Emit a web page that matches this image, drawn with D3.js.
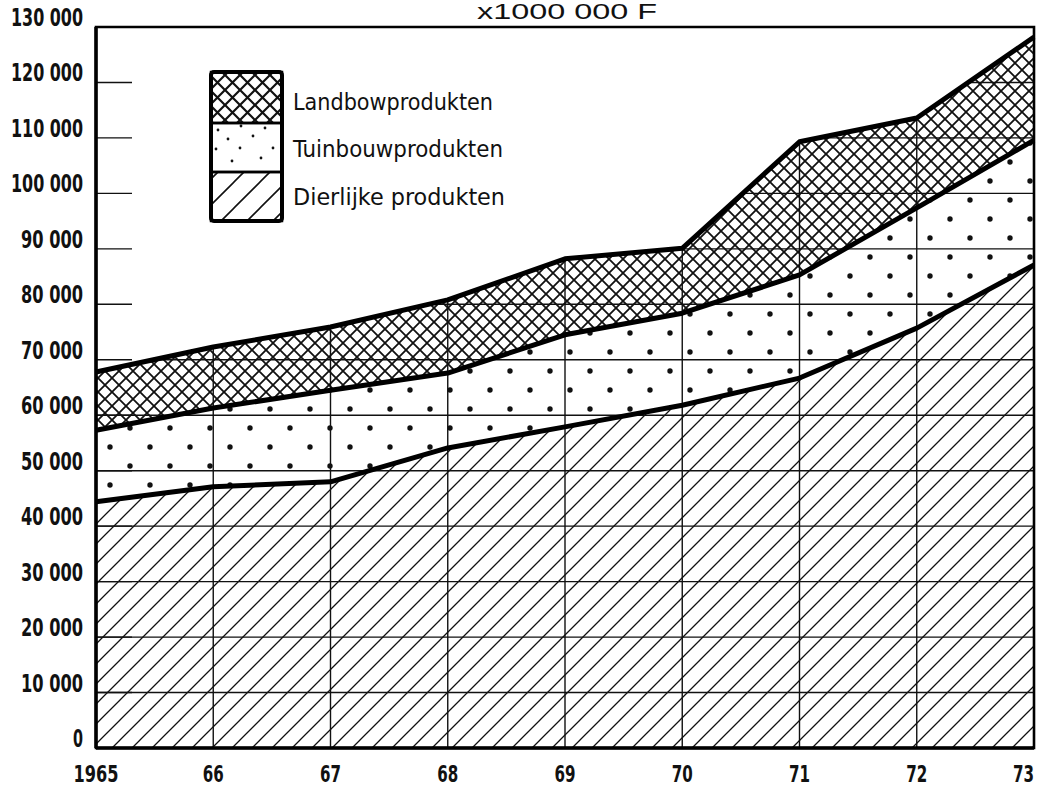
<!DOCTYPE html>
<html>
<head>
	<meta charset="utf-8" />
	<title>D3</title>
	<script src="https://d3js.org/d3.v7.min.js"></script>
	<style>
		body { margin: 0; background: #fff; }
	</style>
</head>
<body>

<script>
var years = [1965, 1966, 1967, 1968, 1969, 1970, 1971, 1972, 1973];
var yearLabels = ["1965", "66", "67", "68", "69", "70", "71", "72", "73"];
var dierlijke = [44400, 47100, 48000, 54100, 57900, 61800, 66700, 75700, 87100];
var tuinbouw = [12900, 14200, 16500, 13500, 16600, 16600, 18600, 21700, 22500];
var landbouw = [10500, 11000, 11400, 13200, 13700, 11700, 24000, 16200, 18600];
var seriesNames = ["Dierlijke produkten", "Tuinbouwprodukten", "Landbowprodukten"];
var yTicks = d3.range(0, 130001, 10000);

var W = 1041, H = 788;
var pLeft = 96, pRight = 1034, pTop = 27, pBottom = 748;

var canvas = d3.select("body").append("svg")
			.attr("width", W)
			.attr("height", H);

var x = d3.scaleLinear().domain([1965, 1973]).range([pLeft, pRight]);
var y = d3.scaleLinear().domain([0, 130000]).range([pBottom, pTop]);

var defs = canvas.append("defs");

// fill patterns
function hatch(id, size, sw) {
	defs.append("pattern")
		.attr("id", id)
		.attr("patternUnits", "userSpaceOnUse")
		.attr("width", size).attr("height", size)
		.append("path")
		.attr("d", "M0," + size + "L" + size + ",0M" + (-size / 2) + "," + (size / 2) + "L" + (size / 2) + "," + (-size / 2) + "M" + (size / 2) + "," + (size * 1.5) + "L" + (size * 1.5) + "," + (size / 2))
		.attr("stroke", "#111").attr("stroke-width", sw).attr("fill", "none");
}
function cross(id, size, sw) {
	var p = defs.append("pattern")
		.attr("id", id)
		.attr("patternUnits", "userSpaceOnUse")
		.attr("width", size).attr("height", size);
	p.append("path")
		.attr("d", "M0,0L" + size + "," + size + "M0," + size + "L" + size + ",0")
		.attr("stroke", "#111").attr("stroke-width", sw).attr("fill", "none");
}
hatch("hatch", 20, 1.3);
hatch("hatchLeg", 26, 1.6);
cross("cross", 14, 1.8);
cross("crossLeg", 15, 2.2);

var dots = defs.append("pattern")
	.attr("id", "dots")
	.attr("patternUnits", "userSpaceOnUse")
	.attr("width", 40).attr("height", 38);
dots.append("circle").attr("cx", 10).attr("cy", 10).attr("r", 2.7).attr("fill", "#111");
dots.append("circle").attr("cx", 30).attr("cy", 29).attr("r", 2.7).attr("fill", "#111");

var dotsLeg = defs.append("pattern")
	.attr("id", "dotsLeg")
	.attr("patternUnits", "userSpaceOnUse")
	.attr("x", 210).attr("y", 123)
	.attr("width", 72).attr("height", 50);
[[8, 7], [31, 3], [55, 5], [18, 16], [43, 13], [6, 26], [30, 25], [63, 25], [22, 38], [51, 35]].forEach(function(d){
	dotsLeg.append("circle").attr("cx", d[0]).attr("cy", d[1]).attr("r", 1.4).attr("fill", "#111");
});

// stacked data
var table = years.map(function(yr, i){
	return { year: yr, d: dierlijke[i], t: tuinbouw[i], l: landbouw[i] };
});
var stack = d3.stack().keys(["d", "t", "l"]);
var layers = stack(table);
var fills = ["url(#hatch)", "url(#dots)", "url(#cross)"];

var area = d3.area()
	.x(function(d){ return x(d.data.year); })
	.y0(function(d){ return y(d[0]); })
	.y1(function(d){ return y(d[1]); });

var line = d3.line()
	.x(function(d){ return x(d.data.year); })
	.y(function(d){ return y(d[1]); });

canvas.append("g").selectAll("path")
	.data(layers)
	.enter()
	.append("path")
	.attr("d", area)
	.attr("fill", function(d, i){ return fills[i]; });

// grid only inside the filled part
defs.append("clipPath").attr("id", "filled")
	.append("path")
	.attr("d", d3.area()
		.x(function(d){ return x(d.data.year); })
		.y0(y(0))
		.y1(function(d){ return y(d[1]); })(layers[2]));

var grid = canvas.append("g").attr("clip-path", "url(#filled)");
grid.selectAll("line.h")
	.data(yTicks)
	.enter()
	.append("line")
	.attr("x1", pLeft).attr("x2", pRight)
	.attr("y1", function(d){ return y(d); })
	.attr("y2", function(d){ return y(d); })
	.attr("stroke", "#111").attr("stroke-width", 1.4);
grid.selectAll("line.v")
	.data(years)
	.enter()
	.append("line")
	.attr("x1", function(d){ return x(d); })
	.attr("x2", function(d){ return x(d); })
	.attr("y1", pTop).attr("y2", pBottom)
	.attr("stroke", "#111").attr("stroke-width", 1.4);

// short ticks on the left axis
canvas.append("g").selectAll("line")
	.data(yTicks)
	.enter()
	.append("line")
	.attr("x1", pLeft).attr("x2", pLeft + 36)
	.attr("y1", function(d){ return y(d); })
	.attr("y2", function(d){ return y(d); })
	.attr("stroke", "#111").attr("stroke-width", 1.4);

// boundary lines
canvas.append("g").selectAll("path")
	.data(layers)
	.enter()
	.append("path")
	.attr("d", line)
	.attr("fill", "none")
	.attr("stroke", "#000")
	.attr("stroke-width", 5)
	.attr("stroke-linejoin", "round");

// frame
canvas.append("path")
	.attr("d", "M" + pLeft + "," + pBottom + "V" + pTop + "H" + pRight + "V" + pBottom + "Z")
	.attr("fill", "none")
	.attr("stroke", "#000")
	.attr("stroke-width", 2.6);
canvas.append("line")
	.attr("x1", pLeft).attr("x2", pRight)
	.attr("y1", pBottom).attr("y2", pBottom)
	.attr("stroke", "#000").attr("stroke-width", 3.5);
canvas.append("line")
	.attr("x1", pLeft).attr("x2", pLeft)
	.attr("y1", pTop).attr("y2", pBottom)
	.attr("stroke", "#000").attr("stroke-width", 3.5);

// y labels
var fmt = function(v){ return d3.format(",")(v).replace(/,/g, " "); };
canvas.append("g").selectAll("text")
	.data(yTicks)
	.enter()
	.append("text")
	.attr("x", 83)
	.attr("y", function(d){ return y(d) - 1; })
	.attr("text-anchor", "end")
	.attr("font-family", "DejaVu Sans Condensed")
	.attr("font-weight", "bold")
	.attr("font-size", 24)
	.attr("textLength", function(d){ return d === 0 ? 10 : (d >= 100000 ? 72 : 62); })
	.attr("lengthAdjust", "spacingAndGlyphs")
	.attr("fill", "#111")
	.text(fmt);

// x labels
canvas.append("g").selectAll("text")
	.data(years)
	.enter()
	.append("text")
	.attr("x", function(d, i){ return i === years.length - 1 ? x(d) : x(d); })
	.attr("y", 782)
	.attr("text-anchor", function(d, i){ return i === years.length - 1 ? "end" : "middle"; })
	.attr("font-family", "DejaVu Sans Condensed")
	.attr("font-weight", "bold")
	.attr("font-size", 23)
	.attr("textLength", function(d, i){ return i === 0 ? 45 : 21; })
	.attr("lengthAdjust", "spacingAndGlyphs")
	.attr("fill", "#111")
	.text(function(d, i){ return yearLabels[i]; });

// unit title
canvas.append("text")
	.attr("x", 567)
	.attr("y", 19)
	.attr("text-anchor", "middle")
	.attr("font-family", "Liberation Sans")
	.attr("font-size", 22)
	.attr("textLength", 180)
	.attr("lengthAdjust", "spacingAndGlyphs")
	.attr("fill", "#111")
	.text("x1000 000 F");

// legend
var legFills = ["url(#hatchLeg)", "url(#dotsLeg)", "url(#crossLeg)"];
var legRows = [
	{ name: seriesNames[2], fill: legFills[2], y0: 72, y1: 123, base: 110, len: 200 },
	{ name: seriesNames[1], fill: legFills[1], y0: 123, y1: 172, base: 157, len: 210 },
	{ name: seriesNames[0], fill: legFills[0], y0: 172, y1: 221, base: 205, len: 212 }
];
var legend = canvas.append("g");
legend.selectAll("rect")
	.data(legRows)
	.enter()
	.append("rect")
	.attr("x", 211).attr("width", 71)
	.attr("y", function(d){ return d.y0; })
	.attr("height", function(d){ return d.y1 - d.y0; })
	.attr("fill", function(d){ return d.fill; })
	.attr("stroke", "#000")
	.attr("stroke-width", 2.5);
legend.append("rect")
	.attr("x", 211).attr("y", 72)
	.attr("width", 71).attr("height", 149)
	.attr("rx", 3)
	.attr("fill", "none")
	.attr("stroke", "#000")
	.attr("stroke-width", 4);
legend.selectAll("text")
	.data(legRows)
	.enter()
	.append("text")
	.attr("x", 293)
	.attr("y", function(d){ return d.base; })
	.attr("font-family", "DejaVu Sans Condensed")
	.attr("font-size", 23)
	.attr("textLength", function(d){ return d.len; })
	.attr("lengthAdjust", "spacingAndGlyphs")
	.attr("fill", "#111")
	.text(function(d){ return d.name; });
</script>
</body>
</html>
